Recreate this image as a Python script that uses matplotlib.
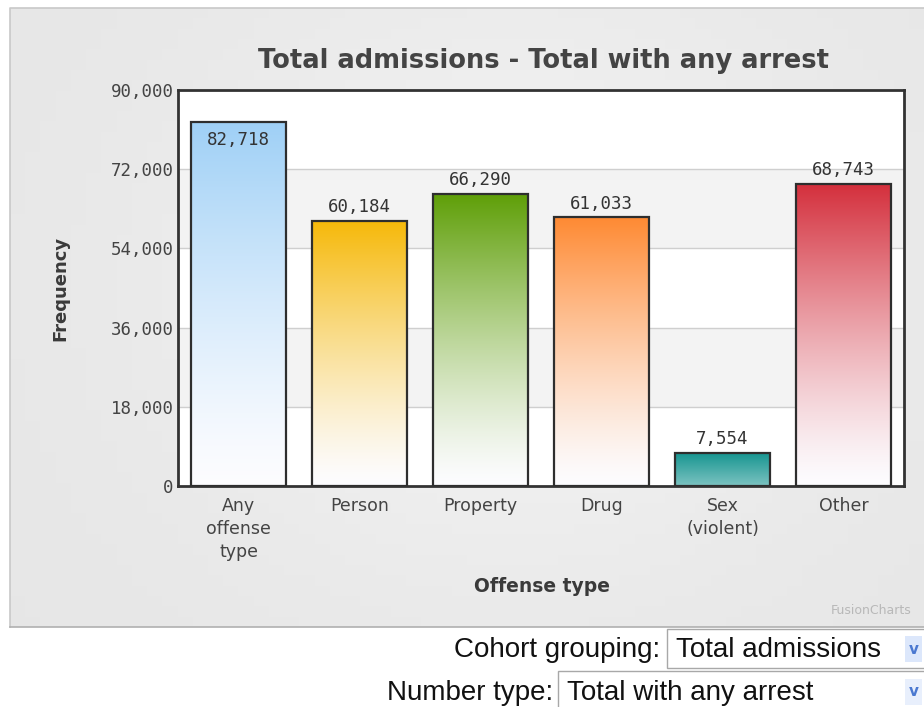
import matplotlib.pyplot as plt
import numpy as np
from matplotlib.colors import to_rgb
from matplotlib.patches import Rectangle

categories = ["Any\noffense\ntype", "Person", "Property", "Drug", "Sex\n(violent)", "Other"]
values = [82718, 60184, 66290, 61033, 7554, 68743]
bar_colors = ["#9fd0f6", "#f6b90a", "#5f9f08", "#ff8a33", "#14948f", "#d42f3c"]
y_ticks = [0, 18000, 36000, 54000, 72000, 90000]

fig = plt.figure(figsize=(9.24, 7.07), dpi=100)

# outer chart panel with a soft gray background
panel = fig.add_axes([0, 0, 1, 1], zorder=-5)
panel.set_xlim(0, 924)
panel.set_ylim(707, 0)
panel.axis("off")
yy, xx = np.mgrid[0:1:60j, 0:1:60j]
bg = 0.90 + 0.05 * np.exp(-((xx - 0.55) ** 2 / 0.15 + (yy - 0.45) ** 2 / 0.25))
panel.imshow(bg, cmap="gray", vmin=0, vmax=1, extent=(10, 924, 627, 8), aspect="auto")
panel.plot([10, 10, 924], [627, 8, 8], color="#c8c8c8", lw=1.2)
panel.plot([10, 924], [627, 627], color="#b0b0b0", lw=1.2)

ax = fig.add_axes([178 / 924, 221 / 707, 726 / 924, 396 / 707])
ax.set_xlim(-0.5, len(values) - 0.5)
ax.set_ylim(0, 90000)
ax.set_facecolor("white")

# alternating light bands between the division lines
for i, (lo, hi) in enumerate(zip(y_ticks[:-1], y_ticks[1:])):
    if i % 2 == 1:
        ax.axhspan(lo, hi, color="#f3f3f3", zorder=0, lw=0)
for t in y_ticks[1:-1]:
    ax.axhline(t, color="#cfcfcf", lw=1, zorder=0.5)

x = np.arange(len(values))
bars = ax.bar(x, values, width=0.78, facecolor="none", edgecolor="#2e2e2e", lw=1.6, zorder=3)

# vertical gradient fill: strong colour at the top fading to white at the base
ramp = np.linspace(0, 1, 256)[:, None]
for b, c in zip(bars, bar_colors):
    top = np.array(to_rgb(c))
    frac = ramp ** 1.3
    if b.get_height() < 20000:
        frac = 0.55 + 0.45 * ramp
    img = np.ones((256, 1, 3)) * (1 - frac[:, :, None]) * np.array([0.99, 0.99, 1.0]) + frac[:, :, None] * top
    x0, w, h = b.get_x(), b.get_width(), b.get_height()
    im = ax.imshow(img, extent=(x0, x0 + w, 0, h), origin="lower", aspect="auto", zorder=2)
    im.set_clip_path(b)

for b, v in zip(bars, values):
    label = f"{v:,}"
    cx = b.get_x() + b.get_width() / 2
    if v > 80000:
        ax.text(cx, v - 2000, label, ha="center", va="top", fontsize=12.5,
                family="DejaVu Sans Mono", color="#333333", zorder=4)
    else:
        ax.text(cx, v + 1100, label, ha="center", va="bottom", fontsize=12.5,
                family="DejaVu Sans Mono", color="#333333", zorder=4)

ax.set_yticks(y_ticks)
ax.set_yticklabels([f"{t:,}" for t in y_ticks], fontsize=12.5, family="DejaVu Sans Mono",
                   color="#444444")
ax.set_xticks(x)
ax.set_xticklabels(categories, fontsize=12.5, color="#444444", linespacing=1.35)
ax.tick_params(length=0, pad=3)
ax.tick_params(axis="x", pad=8)
for s in ax.spines.values():
    s.set_color("#333333")
    s.set_linewidth(2)

fig.text(543 / 924, 1 - 61 / 707, "Total admissions - Total with any arrest",
         ha="center", va="center", fontsize=18.5, fontweight="bold", color="#444444")
fig.text(60 / 924, 1 - 288 / 707, "Frequency", rotation=90, ha="center", va="center",
         fontsize=13, fontweight="bold", color="#3a3a3a")
fig.text(542 / 924, 1 - 587 / 707, "Offense type", ha="center", va="center",
         fontsize=13.5, fontweight="bold", color="#3a3a3a")
fig.text(912 / 924, 1 - 611 / 707, "FusionCharts", ha="right", va="center",
         fontsize=9, color="#b8b8b8")

# selector boxes under the chart
panel.add_patch(Rectangle((667, 629), 263, 39, facecolor="white", edgecolor="#a8a8a8", lw=1))
panel.add_patch(Rectangle((558, 671), 372, 40, facecolor="white", edgecolor="#a8a8a8", lw=1))
panel.add_patch(Rectangle((905, 636), 17, 26, facecolor="#dce7fb", edgecolor="none"))
panel.add_patch(Rectangle((905, 679), 17, 26, facecolor="#e8effc", edgecolor="none"))
panel.text(660, 650, "Cohort grouping:", ha="right", va="center", fontsize=20,
           family="Liberation Sans", color="#111111")
panel.text(676, 650, "Total admissions", ha="left", va="center", fontsize=20,
           family="Liberation Sans", color="#111111")
panel.text(553, 693, "Number type:", ha="right", va="center", fontsize=20,
           family="Liberation Sans", color="#111111")
panel.text(567, 693, "Total with any arrest", ha="left", va="center", fontsize=20,
           family="Liberation Sans", color="#111111")
for yy_ in (649, 692):
    panel.text(914, yy_, "v", ha="center", va="center", fontsize=11, fontweight="bold",
               color="#4a78d0")

fig.savefig("out.png", dpi=100)
